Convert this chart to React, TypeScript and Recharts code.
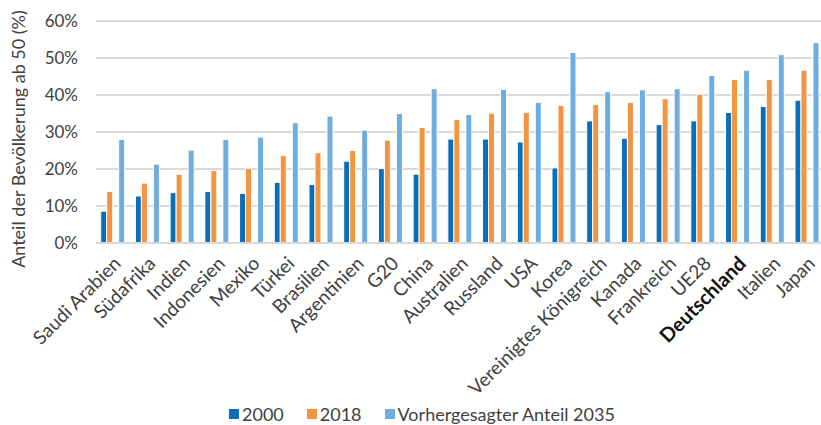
import React from 'react'
import { BarChart, Bar, XAxis, YAxis, CartesianGrid } from 'recharts'

const countries = [
  'Saudi Arabien', 'Südafrika', 'Indien', 'Indonesien', 'Mexiko', 'Türkei', 'Brasilien',
  'Argentinien', 'G20', 'China', 'Australien', 'Russland', 'USA', 'Korea',
  'Vereinigtes Königreich', 'Kanada', 'Frankreich', 'UE28', 'Deutschland', 'Italien', 'Japan',
]

const share2000 = [8.6, 12.7, 13.6, 13.9, 13.4, 16.4, 15.8, 22.1, 20.1, 18.6, 28.1, 28.1, 27.3, 20.3, 33.0, 28.3, 32.0, 33.0, 35.3, 36.9, 38.6]
const share2018 = [13.9, 16.2, 18.6, 19.6, 20.2, 23.6, 24.4, 25.0, 27.8, 31.2, 33.4, 35.1, 35.3, 37.2, 37.4, 38.0, 39.0, 40.2, 44.2, 44.2, 46.7]
const share2035 = [28.0, 21.3, 25.1, 28.0, 28.6, 32.5, 34.3, 30.5, 35.0, 41.7, 34.7, 41.5, 38.0, 51.5, 40.9, 41.4, 41.7, 45.3, 46.7, 50.9, 54.2]

const yTicks = [0, 10, 20, 30, 40, 50, 60]

const seriesNames = ['2000', '2018', 'Vorhergesagter Anteil 2035']
const seriesColors = ['#0a6fba', '#f39540', '#6eaddf']

const highlight = 'Deutschland'
const FONT = 'Lato, "Noto Sans", sans-serif'
const TEXT = '#404040'

const data = countries.map((name, i) => ({
  name,
  y2000: share2000[i],
  y2018: share2018[i],
  y2035: share2035[i],
}))

const CountryTick = ({ x, y, payload }: any) => {
  const bold = payload.value === highlight
  return (
    <g transform={`translate(${x + 4},${y + 9})`}>
      <text
        x={0}
        y={0}
        dy="0.35em"
        textAnchor="end"
        transform="rotate(-45)"
        fill={bold ? '#111' : TEXT}
        fontWeight={bold ? 700 : 400}
        fontSize={bold ? 20 : 19}
        fontFamily={FONT}
      >
        {payload.value}
      </text>
    </g>
  )
}

const AxisTitle = () => (
  <text
    x={18}
    y={139}
    transform="rotate(-90, 18, 139)"
    textAnchor="middle"
    dominantBaseline="central"
    fill={TEXT}
    fontSize={18}
    fontFamily={FONT}
  >
    Anteil der Bevölkerung ab 50 (%)
  </text>
)

export default function App() {
  return (
    <div style={{ position: 'absolute', left: 0, top: 0, width: 821, height: 425, background: '#fff', overflow: 'hidden' }}>
      <BarChart
        width={821}
        height={425}
        data={data}
        margin={{ top: 21, right: -4, left: 0, bottom: 0 }}
        barCategoryGap={4.7}
        barGap={0}
      >
        <CartesianGrid vertical={false} stroke="#d9d9d9" strokeWidth={2} />
        <XAxis
          dataKey="name"
          interval={0}
          height={182}
          tickLine={false}
          axisLine={{ stroke: '#d9d9d9', strokeWidth: 2 }}
          tick={<CountryTick />}
        />
        <YAxis
          width={96}
          domain={[0, 60]}
          ticks={yTicks}
          tickFormatter={(v: number) => `${v}%`}
          axisLine={false}
          tickLine={false}
          tickSize={0}
          tickMargin={18}
          tick={{ fill: TEXT, fontSize: 17, fontFamily: FONT }}
          label={{ content: <AxisTitle /> }}
        />
        <Bar dataKey="y2000" fill={seriesColors[0]} stroke="#fff" strokeWidth={1} isAnimationActive={false} />
        <Bar dataKey="y2018" fill={seriesColors[1]} stroke="#fff" strokeWidth={1} isAnimationActive={false} />
        {/* empty slot between 2018 and 2035 */}
        <Bar dataKey="spacer" fill="none" isAnimationActive={false} legendType="none" />
        <Bar dataKey="y2035" fill={seriesColors[2]} stroke="#fff" strokeWidth={1} isAnimationActive={false} />
      </BarChart>
      <div
        style={{
          position: 'absolute',
          left: 229,
          top: 403,
          display: 'flex',
          alignItems: 'center',
          fontFamily: FONT,
          fontSize: 18,
          lineHeight: '22px',
          color: TEXT,
          whiteSpace: 'nowrap',
        }}
      >
        {seriesNames.map((s, i) => (
          <div key={s} style={{ display: 'flex', alignItems: 'center', marginRight: 23 }}>
            <span style={{ width: 10, height: 10, background: seriesColors[i], marginRight: 3, display: 'inline-block' }} />
            <span>{s}</span>
          </div>
        ))}
      </div>
    </div>
  )
}
